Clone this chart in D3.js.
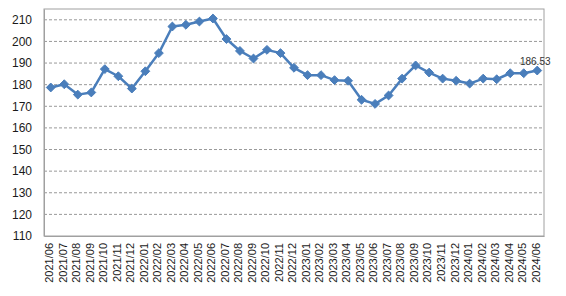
<!DOCTYPE html>
<html>
<head>
<meta charset="utf-8">
<script src="https://cdn.jsdelivr.net/npm/d3@7"></script>
<style>
  body { margin: 0; background: #fff; }
  svg { display: block; font-family: "Liberation Sans", Arial, sans-serif; }
</style>
</head>
<body>
<svg id="chart" width="566" height="296"></svg>
<script>
// 月份
const months = [
  "2021/06","2021/07","2021/08","2021/09","2021/10","2021/11","2021/12",
  "2022/01","2022/02","2022/03","2022/04","2022/05","2022/06","2022/07",
  "2022/08","2022/09","2022/10","2022/11","2022/12","2023/01","2023/02",
  "2023/03","2023/04","2023/05","2023/06","2023/07","2023/08","2023/09",
  "2023/10","2023/11","2023/12","2024/01","2024/02","2024/03","2024/04",
  "2024/05","2024/06"
];
// 指数值
const values = [
  178.7, 180.2, 175.4, 176.4, 187.2, 183.9, 178.2,
  186.2, 194.6, 206.9, 207.7, 209.2, 210.6, 201.1,
  195.6, 192.1, 196.1, 194.6, 187.8, 184.4, 184.4,
  182.1, 181.8, 173.0, 171.1, 175.0, 182.8, 188.9,
  185.6, 182.8, 181.8, 180.5, 182.8, 182.5, 185.3,
  185.3, 186.53
];
const yTicks = [110, 120, 130, 140, 150, 160, 170, 180, 190, 200, 210];

const margin = { top: 9, right: 22, bottom: 60, left: 44 };
const W = 566, H = 296;
const width = W - margin.left - margin.right;
const height = H - margin.top - margin.bottom;

const svg = d3.select("#chart")
  .append("g")
  .attr("transform", `translate(${margin.left},${margin.top})`);

const x = d3.scaleBand().domain(months).range([0, width]);
const y = d3.scaleLinear().domain([110, 215]).range([height, 0]);

// 网格线
svg.append("g")
  .selectAll("line")
  .data(yTicks.filter(d => d > 110))
  .enter().append("line")
  .attr("x1", 0).attr("x2", width)
  .attr("y1", d => y(d)).attr("y2", d => y(d))
  .attr("stroke", "#999")
  .attr("stroke-width", 1)
  .attr("stroke-dasharray", "3,2");

// 边框
svg.append("rect")
  .attr("x", 0).attr("y", 0)
  .attr("width", width).attr("height", height)
  .attr("fill", "none")
  .attr("stroke", "#a0a0a0")
  .attr("stroke-width", 1);

// Y轴
const yAxis = svg.append("g")
  .call(d3.axisLeft(y).tickValues(yTicks).tickSize(0).tickPadding(12));
yAxis.select(".domain").attr("stroke", "#a0a0a0");
yAxis.selectAll("text").attr("font-size", 12).attr("fill", "#1a1a1a");

// X轴
const xAxis = svg.append("g")
  .attr("transform", `translate(0,${height})`)
  .call(d3.axisBottom(x).tickSize(0));
xAxis.select(".domain").attr("stroke", "#a0a0a0");
xAxis.selectAll("text")
  .attr("font-size", 11)
  .attr("fill", "#1a1a1a")
  .attr("transform", "rotate(-90)")
  .attr("text-anchor", "end")
  .attr("dx", "-7")
  .attr("dy", "-0.05em")
  .attr("x", 0).attr("y", 0)
  .style("dominant-baseline", "middle");

// 折线
const cx = d => x(d) + x.bandwidth() / 2;
svg.append("path")
  .datum(values)
  .attr("fill", "none")
  .attr("stroke", "#4a7ebb")
  .attr("stroke-width", 2.5)
  .attr("stroke-linejoin", "round")
  .attr("d", d3.line()
    .x((d, i) => cx(months[i]))
    .y(d => y(d)));

// 菱形标记
svg.append("g")
  .selectAll("path")
  .data(values)
  .enter().append("path")
  .attr("transform", (d, i) => `translate(${cx(months[i])},${y(d)})`)
  .attr("d", d3.symbol().type(d3.symbolDiamond2).size(50))
  .attr("fill", "#4a7ebb")
  .attr("stroke", "#4a7ebb")
  .attr("stroke-width", 1);

// 末值标签
const last = values.length - 1;
svg.append("text")
  .attr("x", cx(months[last]) - 2)
  .attr("y", y(values[last]) - 6)
  .attr("text-anchor", "middle")
  .attr("font-size", 10)
  .attr("fill", "#333")
  .text(values[last].toFixed(2));
</script>
</body>
</html>
